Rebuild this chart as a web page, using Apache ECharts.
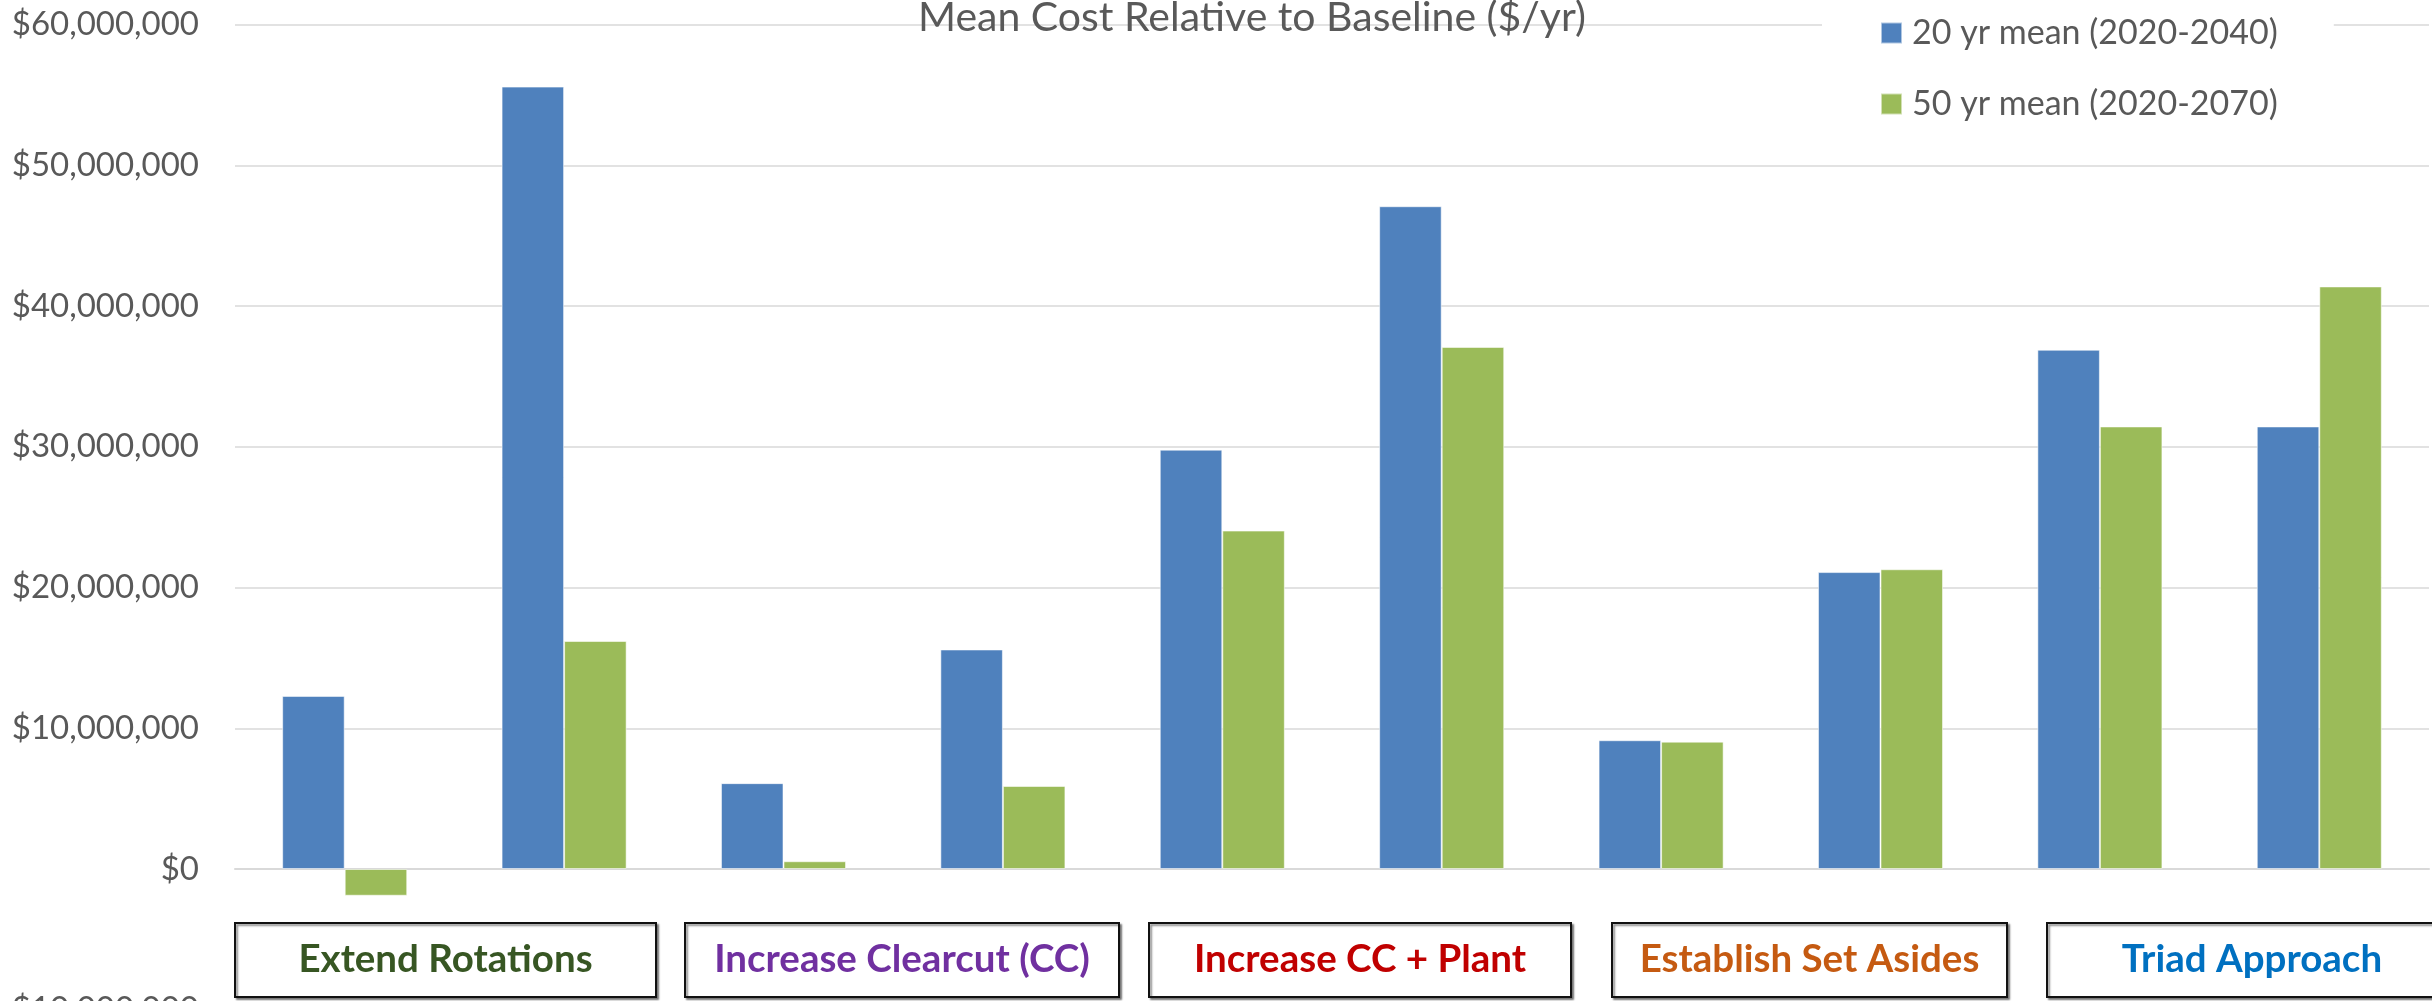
<!DOCTYPE html>
<html>
<head>
<meta charset="utf-8">
<script src="https://cdn.jsdelivr.net/npm/echarts@6/dist/echarts.min.js"></script>
<style>
  html, body { margin: 0; padding: 0; background: #ffffff; }
  #chart { width: 2432px; height: 1001px; }
</style>
</head>
<body>
<div id="chart"></div>
<script>
// Scenario runs, two per management strategy
const categories = [
  'Extend Rotations A', 'Extend Rotations B',
  'Increase Clearcut A', 'Increase Clearcut B',
  'Increase CC + Plant A', 'Increase CC + Plant B',
  'Establish Set Asides A', 'Establish Set Asides B',
  'Triad Approach A', 'Triad Approach B'
];

// Mean annual cost relative to baseline, $/yr
const mean20yr = [12300000, 55600000, 6100000, 15600000, 29800000, 47100000, 9150000, 21100000, 36900000, 31450000];
const mean50yr = [-1900000, 16200000, 550000, 5900000, 24050000, 37100000, 9050000, 21300000, 31450000, 41400000];

const seriesNames = ['20 yr mean (2020-2040)', '50 yr mean (2020-2070)'];
const seriesColors = ['#4F81BD', '#9BBB59'];

// Value axis ticks
const yMin = -10000000;
const yMax = 60000000;
const yStep = 10000000;

// Strategy labels shown in boxes under each pair of bars
const groupLabels = ['Extend Rotations', 'Increase Clearcut (CC)', 'Increase CC + Plant', 'Establish Set Asides', 'Triad Approach'];
const groupColors = ['#375623', '#7030A0', '#C00000', '#C55A11', '#0070C0'];

const chartTitle = 'Mean Cost Relative to Baseline ($/yr)';

// Box layout for the strategy labels: [left, width]; the last box runs past the right edge
const boxLayout = [[235, 421], [685, 434], [1149, 422], [1612, 395], [2047, 410]];
const boxTop = 923;
const boxHeight = 74;

function money(v) {
  const s = '$' + Math.abs(v).toLocaleString('en-US');
  return v < 0 ? '-' + s : s;
}

const graphics = [];
groupLabels.forEach(function (label, i) {
  const [x, w] = boxLayout[i];
  graphics.push({
    type: 'rect',
    shape: { x: x, y: boxTop, width: w, height: boxHeight },
    style: {
      fill: '#ffffff',
      stroke: '#111111',
      lineWidth: 2,
      shadowColor: 'rgba(0,0,0,0.45)',
      shadowBlur: 2,
      shadowOffsetX: 2,
      shadowOffsetY: 2
    },
    z: 10
  });
  graphics.push({
    type: 'text',
    x: x + w / 2,
    y: boxTop + boxHeight / 2,
    style: {
      text: label,
      fill: groupColors[i],
      fontFamily: 'Lato',
      fontWeight: 'bold',
      fontSize: 38.5,
      textAlign: 'center',
      textVerticalAlign: 'middle'
    },
    z: 11
  });
});

const chart = echarts.init(document.getElementById('chart'), null, { renderer: 'canvas' });

chart.setOption({
  animation: false,
  backgroundColor: '#ffffff',
  textStyle: { fontFamily: 'Lato' },
  title: {
    text: chartTitle,
    left: 918,
    top: -3,
    padding: 0,
    textStyle: { fontSize: 41, fontWeight: 'normal', color: '#595959', fontFamily: 'Lato' }
  },
  legend: {
    data: seriesNames,
    orient: 'vertical',
    left: 1822,
    top: 0,
    backgroundColor: '#ffffff',
    padding: [16, 56, 18, 58],
    itemWidth: 21,
    itemHeight: 21,
    itemGap: 37,
    icon: 'rect',
    textStyle: { fontSize: 34, color: '#595959', fontFamily: 'Lato', padding: [0, 0, 0, 5] },
    z: 5
  },
  grid: {
    left: 235,
    top: 24.7,
    width: 2194,
    height: 985,
    containLabel: false,
    outerBoundsMode: 'none'
  },
  xAxis: {
    type: 'category',
    data: categories,
    axisTick: { show: false },
    axisLabel: { show: false },
    axisLine: { onZero: true, lineStyle: { color: '#D9D9D9', width: 2 } },
    splitLine: { show: false }
  },
  yAxis: {
    type: 'value',
    min: yMin,
    max: yMax,
    interval: yStep,
    axisLine: { show: false },
    axisTick: { show: false },
    axisLabel: {
      formatter: money,
      fontSize: 33,
      color: '#595959',
      fontFamily: 'Lato',
      margin: 36
    },
    splitLine: { lineStyle: { color: '#D9D9D9', width: 1.5 } }
  },
  series: [
    {
      name: seriesNames[0],
      type: 'bar',
      data: mean20yr,
      barGap: '0%',
      barCategoryGap: '43%',
      itemStyle: { color: seriesColors[0], borderColor: 'rgba(255,255,255,0.55)', borderWidth: 1 }
    },
    {
      name: seriesNames[1],
      type: 'bar',
      data: mean50yr,
      barGap: '0%',
      barCategoryGap: '43%',
      itemStyle: { color: seriesColors[1], borderColor: 'rgba(255,255,255,0.55)', borderWidth: 1 }
    }
  ],
  graphic: graphics
});
</script>
</body>
</html>
